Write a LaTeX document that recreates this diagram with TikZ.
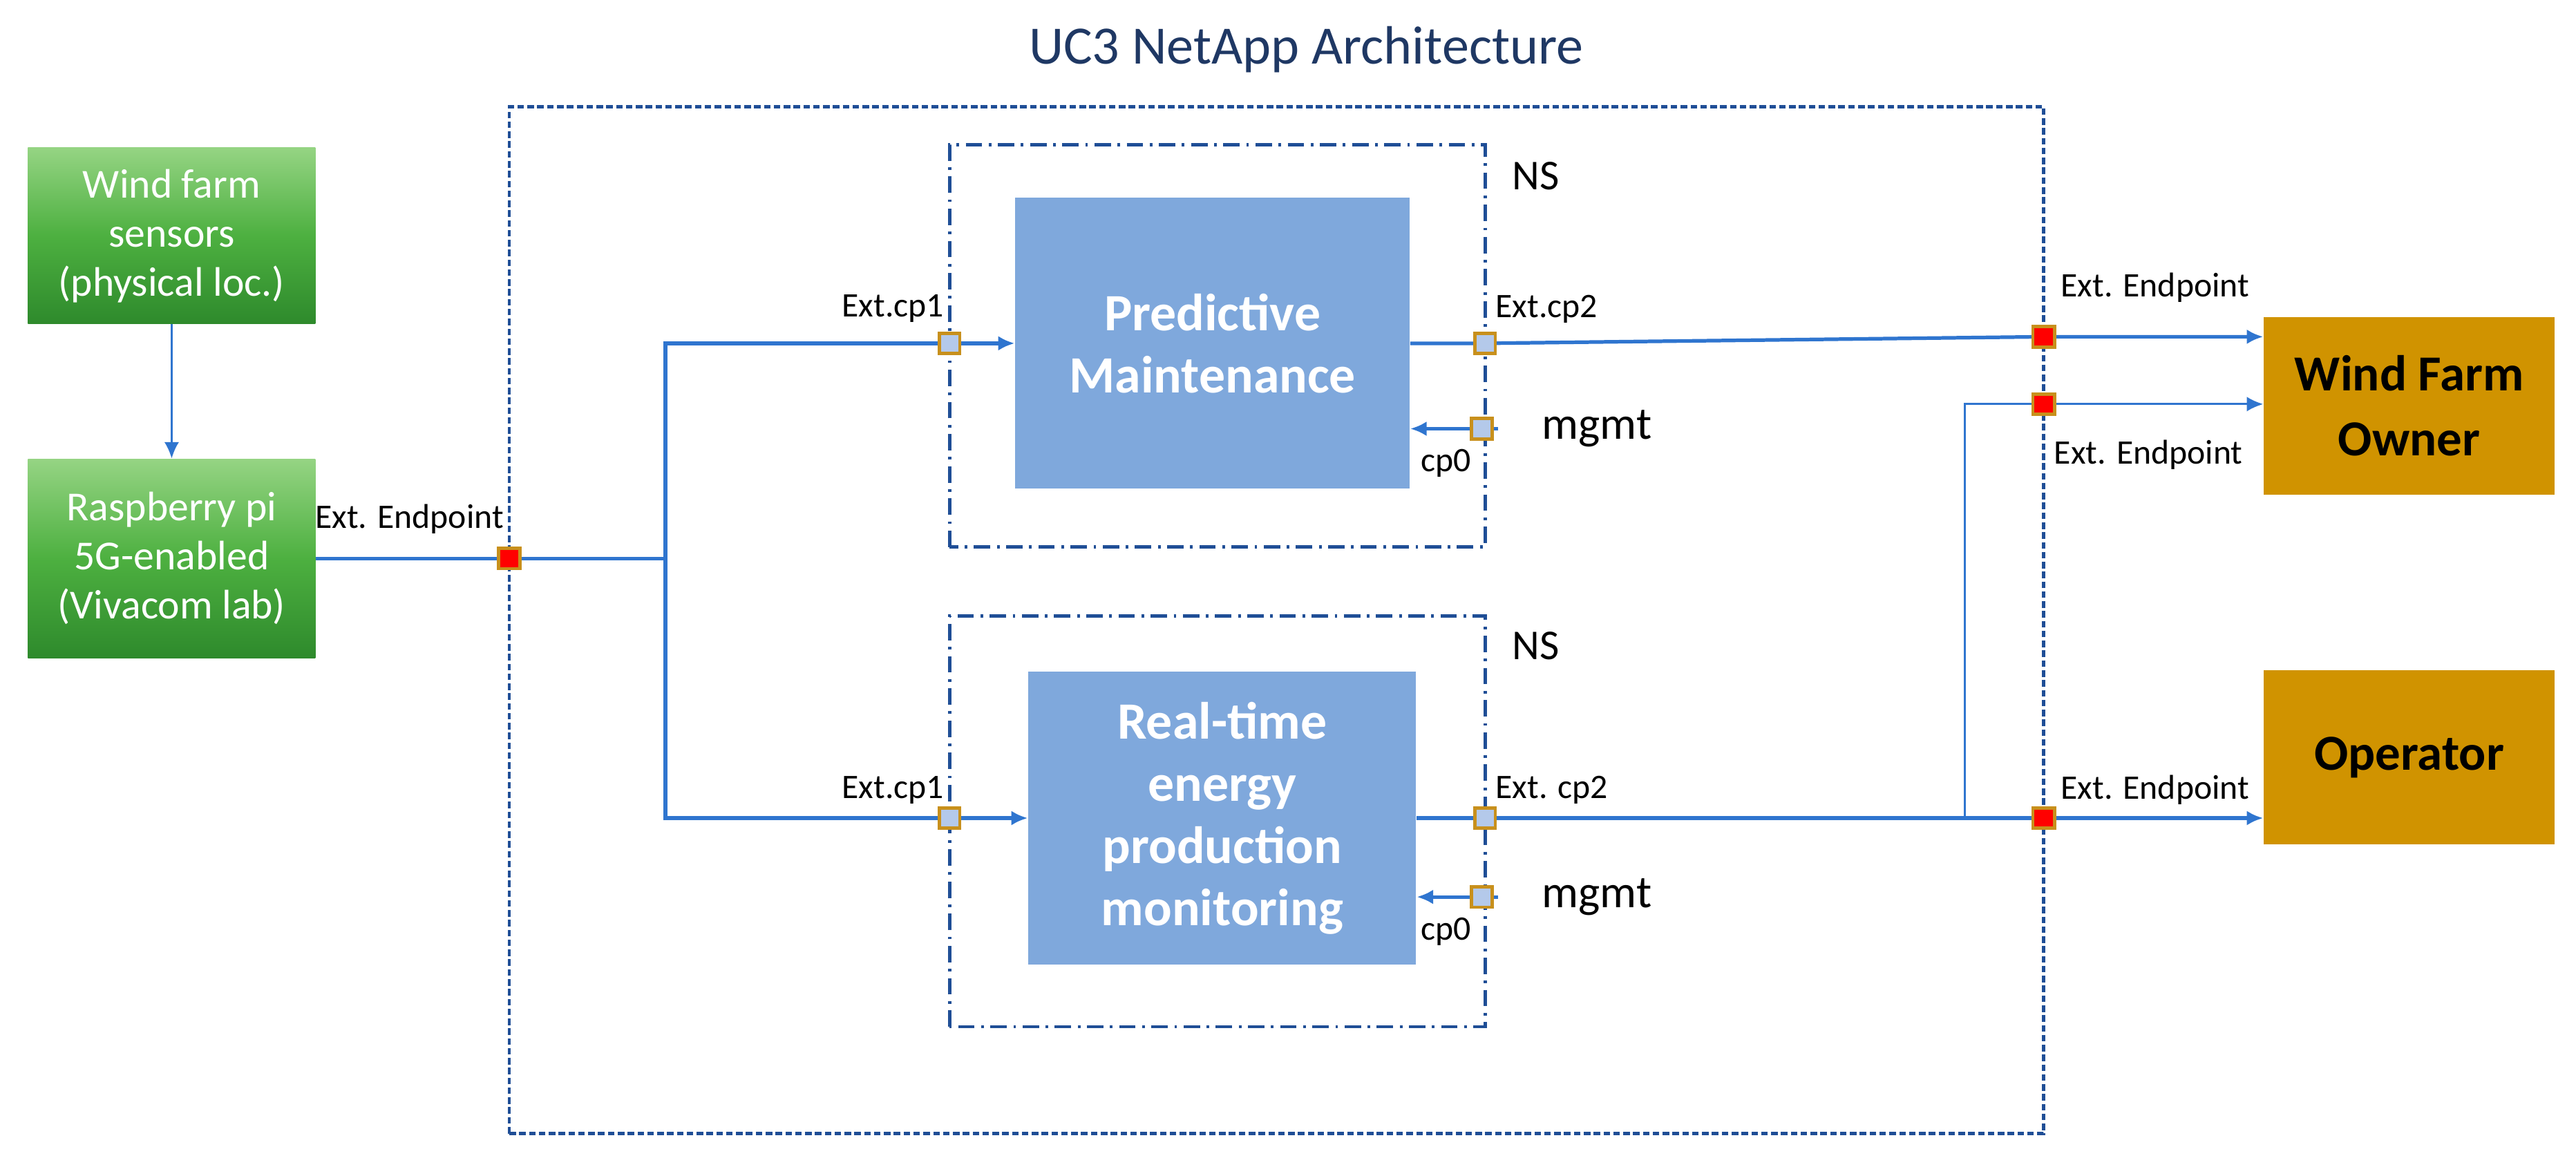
\documentclass[tikz,border=0pt]{standalone}
\usepackage{fontspec}
\setmainfont{Carlito}
\usetikzlibrary{arrows.meta,shapes}
\definecolor{lineblue}{HTML}{2F75CF}
\definecolor{framenavy}{HTML}{1F4E96}
\definecolor{titlenavy}{HTML}{1F3864}
\definecolor{boxblue}{HTML}{7FA8DC}
\definecolor{boxgold}{HTML}{D09300}
\definecolor{portfill}{HTML}{B4C9EA}
\definecolor{portedge}{HTML}{C8901C}
\definecolor{greentop}{HTML}{95D483}
\definecolor{greenmid}{HTML}{4DB040}
\definecolor{greenbot}{HTML}{2E8A2C}

\begin{document}
\begin{tikzpicture}[>={Latex[length=5bp,width=4.5bp]}]
      \tikzstyle{every node}=[font=\fontsize{10.5}{12}\selectfont]
      \tikzstyle{greenbox}=[rectangle, minimum width=87.5bp, top color=greentop, bottom color=greenbot, middle color=greenmid, text=white, align=center, font=\fontsize{12.6}{15}\selectfont]
      \tikzstyle{bluebox}=[rectangle, fill=boxblue, text=white, align=center, font=\bfseries\fontsize{16}{19}\selectfont]
      \tikzstyle{goldbox}=[rectangle, fill=boxgold, minimum width=88.5bp, align=center, font=\bfseries\fontsize{15.4}{20}\selectfont]
      \tikzstyle{port}=[rectangle, draw=portedge, fill=portfill, line width=1bp, minimum width=6.2bp, minimum height=6.2bp, inner sep=0pt]
      \tikzstyle{endport}=[port, fill=red, minimum width=6.6bp]
      \tikzstyle{conn}=[draw=lineblue, line width=1.1bp]
      \tikzstyle{thinconn}=[draw=lineblue, line width=0.6bp]
      \tikzstyle{outerframe}=[draw=framenavy, line width=1bp, dash pattern=on 2bp off 1bp]
      \tikzstyle{nsframe}=[draw=framenavy, line width=1bp, dash pattern=on 5bp off 2bp on 0.8bp off 2bp]
      \tikzstyle{lbl}=[inner sep=1bp]
      %%
      \useasboundingbox (0bp,0bp) rectangle (784bp,355bp);
\node (ttl) at (397.5bp,340bp) [text=titlenavy, font=\fontsize{16.5}{19}\selectfont] {UC3 NetApp Architecture};
  \draw [outerframe] (155bp,10bp) rectangle (622bp,322.5bp);
  \draw [nsframe] (289bp,188.5bp) rectangle (452bp,311bp);
  \draw [nsframe] (289bp,42.5bp) rectangle (452bp,167.5bp);
  \node (nsa) at (459bp,301.5bp) [anchor=west, lbl, font=\fontsize{13}{15}\selectfont] {NS};
  \node (nsb) at (459bp,158.5bp) [anchor=west, lbl, font=\fontsize{13}{15}\selectfont] {NS};
  \node (sens) at (52.25bp,283.25bp) [greenbox, minimum height=53.5bp] {Wind farm\\sensors\\(physical loc.)};
  \node (rpi) at (52.25bp,185bp) [greenbox, minimum height=60.5bp] {Raspberry pi\\5G-enabled\\(Vivacom lab)};
  \node (pm) at (369bp,250.5bp) [bluebox, minimum width=120bp, minimum height=88.5bp] {Predictive\\Maintenance};
  \node (rt) at (372bp,106bp) [bluebox, minimum width=118bp, minimum height=89bp] {Real-time\\energy\\production\\monitoring};
  \node (wfo) at (733.25bp,231.5bp) [goldbox, minimum height=54bp] {Wind Farm\\Owner};
  \node (op) at (733.25bp,124.5bp) [goldbox, minimum height=53bp] {Operator};
  \coordinate (ep0) at (155bp,185bp);
  \coordinate (jn) at (202.5bp,185bp);
  \coordinate (cpa1) at (289bp,250.5bp);
  \coordinate (cpa2) at (452bp,250.5bp);
  \coordinate (mga) at (451bp,224.5bp);
  \coordinate (mga0) at (456bp,224.5bp);
  \coordinate (cpb1) at (289bp,106bp);
  \coordinate (cpb2) at (452bp,106bp);
  \coordinate (mgb) at (451bp,82bp);
  \coordinate (mgb0) at (456bp,82bp);
  \coordinate (ep1) at (622bp,252.5bp);
  \coordinate (ep2) at (622bp,232bp);
  \coordinate (ep3) at (622bp,106bp);
  \coordinate (jr) at (598bp,106bp);
  \draw [thinconn, ->] (sens) -- (rpi);
  \draw [conn] (rpi) -- (jn);
  \draw [conn, ->] (jn) |- (cpa1) -- (pm);
  \draw [conn, ->] (jn) |- (cpb1) -- (rt);
  \draw [conn, ->] (pm) -- (cpa2) -- (ep1) -- (ep1 -| wfo.west);
  \draw [conn, ->] (rt) -- (cpb2) -- (ep3) -- (ep3 -| op.west);
  \draw [thinconn, ->] (jr) |- (ep2) -- (ep2 -| wfo.west);
  \draw [conn, ->] (mga0) -- (mga -| pm.east);
  \draw [conn, ->] (mgb0) -- (mgb -| rt.east);
  \node (pa1) at (cpa1) [port] {};
  \node (pa2) at (cpa2) [port] {};
  \node (pma) at (mga) [port] {};
  \node (pb1) at (cpb1) [port] {};
  \node (pb2) at (cpb2) [port] {};
  \node (pmb) at (mgb) [port] {};
  \node (e0) at (ep0) [endport] {};
  \node (e1) at (ep1) [endport] {};
  \node (e2) at (ep2) [endport] {};
  \node (e3) at (ep3) [endport] {};
  \node (le0) at (154.5bp,197bp) [anchor=east, lbl] {Ext. Endpoint};
  \node (la1) at (288.5bp,261bp) [anchor=east, lbl] {Ext.cp1};
  \node (la2) at (454bp,261bp) [anchor=west, lbl] {Ext.cp2};
  \node (lb1) at (288.5bp,114.5bp) [anchor=east, lbl] {Ext.cp1};
  \node (lb2) at (454bp,114.5bp) [anchor=west, lbl] {Ext. cp2};
  \node (le1) at (626bp,267.5bp) [anchor=west, lbl] {Ext. Endpoint};
  \node (le2) at (624bp,216.5bp) [anchor=west, lbl] {Ext. Endpoint};
  \node (le3) at (626bp,114.5bp) [anchor=west, lbl] {Ext. Endpoint};
  \node (ca) at (440bp,214bp) [lbl] {cp0};
  \node (cb) at (440bp,71.5bp) [lbl] {cp0};
  \node (ma) at (486bp,224.5bp) [lbl, font=\fontsize{14}{16}\selectfont] {mgmt};
  \node (mb) at (486bp,82bp) [lbl, font=\fontsize{14}{16}\selectfont] {mgmt};
%
\end{tikzpicture}
\end{document}
